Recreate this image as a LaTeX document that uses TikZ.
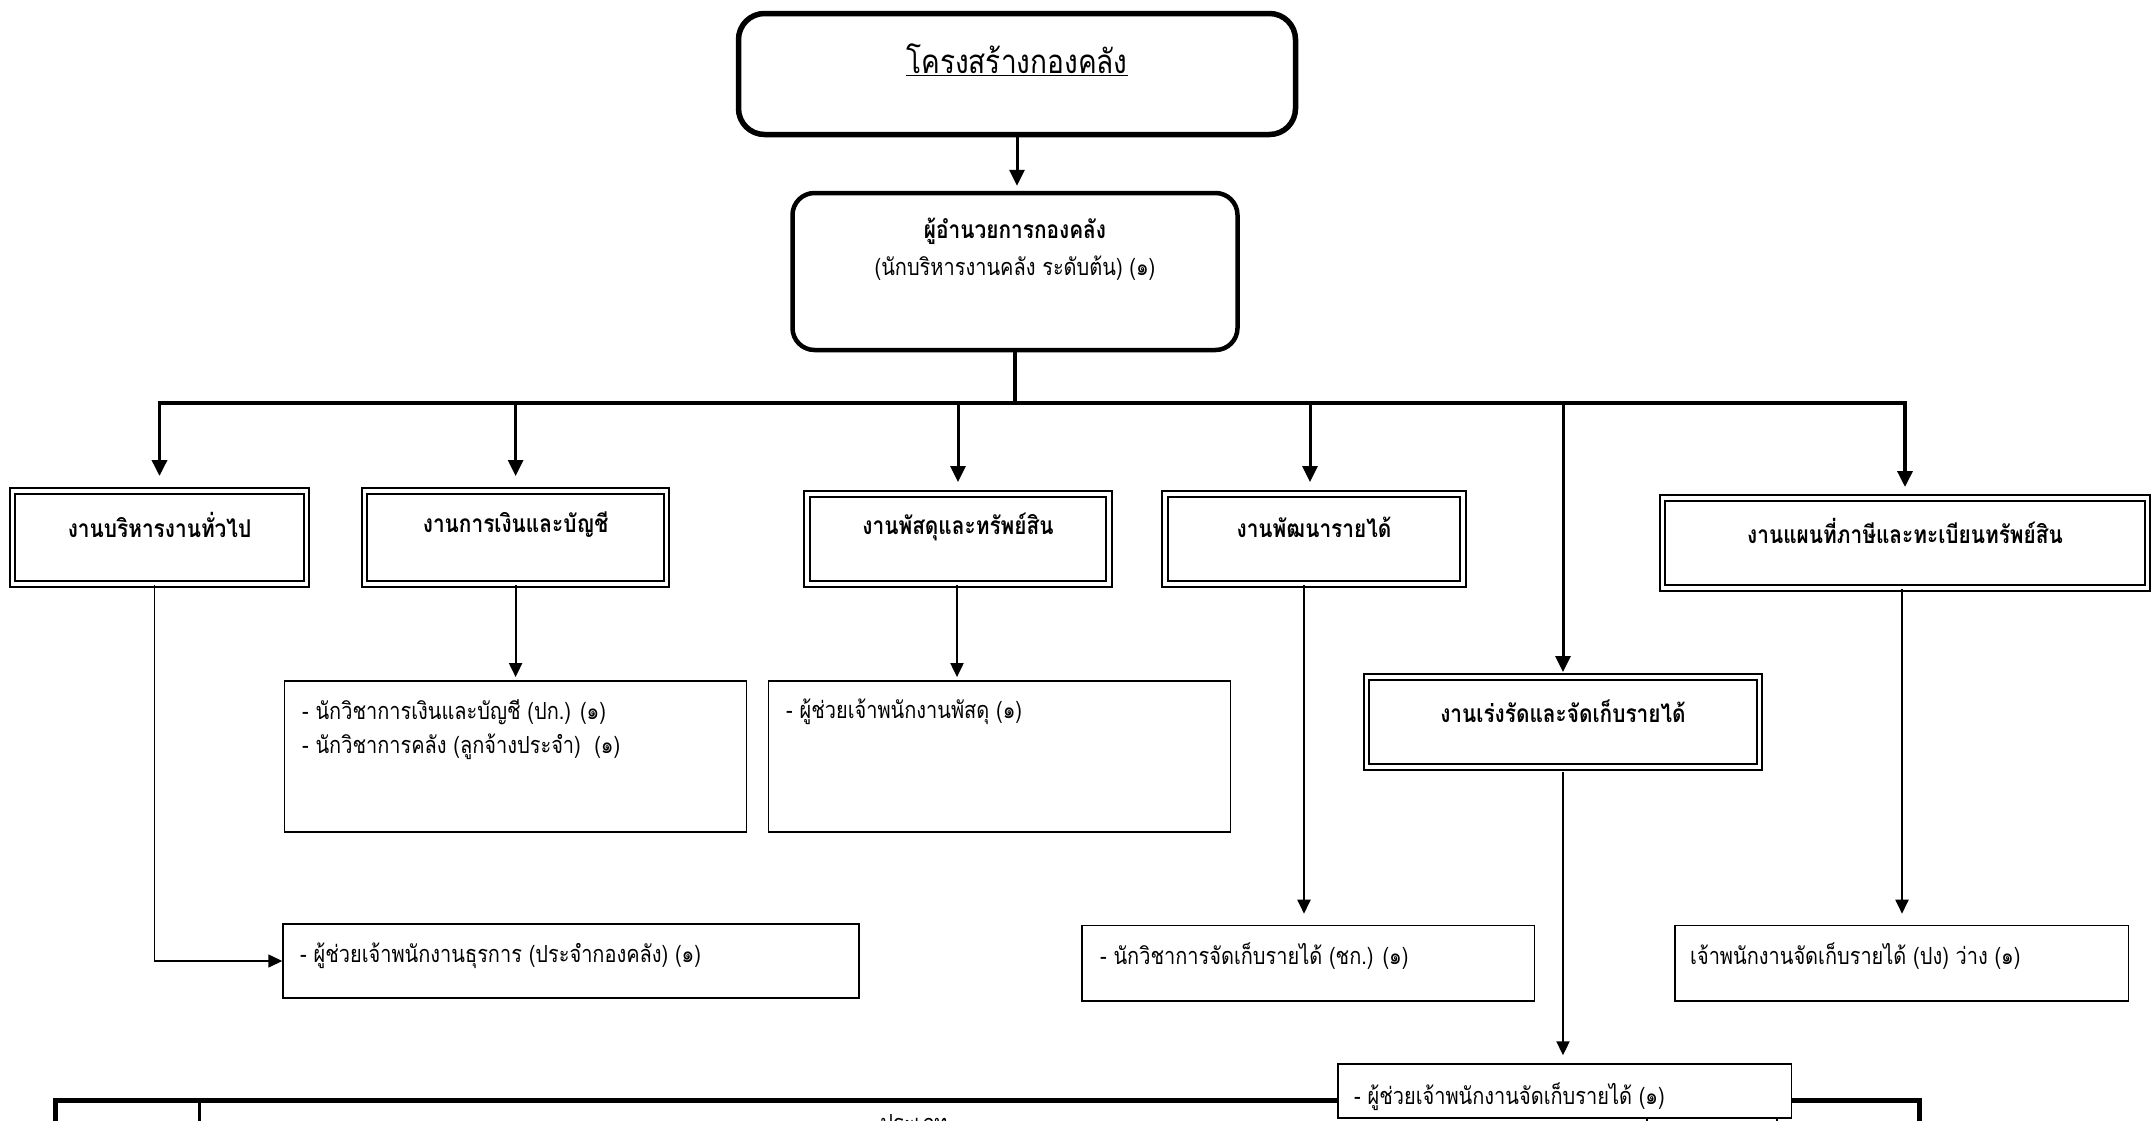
\documentclass[tikz,border=0pt]{standalone}
\usepackage{fontspec}
\setmainfont[Script=Thai, FakeStretch=0.85]{Loma}
\usetikzlibrary{arrows.meta}
\begin{document}
\begin{tikzpicture}[x=1pt,y=-1pt,
  titlebox/.style={draw, line width=5.5pt, rounded corners=26pt},
  dirbox/.style={draw, line width=4.5pt, rounded corners=22pt},
  secbox/.style={draw, line width=2pt, double, double distance=3.5pt, fill=white},
  staffbox/.style={draw, line width=1.4pt, fill=white},
  stafftext/.style={anchor=west, inner sep=0pt, font=\fontsize{23.5}{28}\selectfont},
  sectext/.style={inner sep=0pt, font=\bfseries\fontsize{24.5}{29}\selectfont},
  bigtip/.style={-{Triangle[width=15pt,length=16pt]}},
  smalltip/.style={-{Triangle[width=13pt,length=14pt]}},
  busline/.style={line width=3.5pt},
  dropline/.style={line width=3pt},
  thinline/.style={line width=2pt},
]
\useasboundingbox (0,0) rectangle (2156,1120);

% bottom table (cut off)
\draw[line width=5pt] (55,1124) -- (55,1100) -- (1919.5,1100) -- (1919.5,1124);
\draw[line width=3pt] (199.4,1100) -- (199.4,1124);
\draw[line width=2pt] (1647,1100) -- (1647,1124);
\draw[line width=2pt] (1776.5,1100) -- (1776.5,1124);
\node[stafftext, anchor=north] (tblhead) at (914,1114) {ประเภท};

% title
\node[titlebox, minimum width=557pt, minimum height=121pt] (T) at (1017,74) {};
\node[inner sep=0pt] (Ttext) at (1017,60) {\fontsize{33}{40}\selectfont\underline{โครงสร้างกองคลัง}};

% director
\node[dirbox, minimum width=445pt, minimum height=157pt] (D) at (1015,271.5) {};
\node[sectext] (D1) at (1015,231) {ผู้อำนวยการกองคลัง};
\node[inner sep=0pt, font=\fontsize{23.5}{28}\selectfont] (D2) at (1015,268) {(นักบริหารงานคลัง ระดับต้น) (๑)};

\draw[dropline, bigtip, shorten >=5pt] (T.south) -- (T.south |- D.north);

% sections
\node[secbox, minimum width=294pt, minimum height=93pt] (B1) at (159.5,537.5) {};
\node[secbox, minimum width=302pt, minimum height=93pt] (B2) at (515.6,537.5) {};
\node[secbox, minimum width=302pt, minimum height=90pt] (B3) at (958,539) {};
\node[secbox, minimum width=298pt, minimum height=90pt] (B4) at (1314,539) {};
\node[secbox, minimum width=485pt, minimum height=90pt] (B5) at (1905,543) {};
\node[secbox, minimum width=393pt, minimum height=90pt] (B6) at (1563,722) {};
\node[sectext] (B1t) at (159.5,525) {งานบริหารงานทั่วไป};
\node[sectext] (B2t) at (515.6,525) {งานการเงินและบัญชี};
\node[sectext] (B3t) at (958,527) {งานพัสดุและทรัพย์สิน};
\node[sectext] (B4t) at (1314,527) {งานพัฒนารายได้};
\node[sectext] (B5t) at (1905,531) {งานแผนที่ภาษีและทะเบียนทรัพย์สิน};
\node[sectext] (B6t) at (1563,711) {งานเร่งรัดและจัดเก็บรายได้};

% bus
\coordinate (bus) at (1017,403);
\draw[busline] (D.south) -- (D.south |- bus);
\draw[busline, {Triangle[width=15pt,length=16pt]}-{Triangle[width=15pt,length=16pt]}, shorten <=14pt, shorten >=10pt]
  (B1.north) -- (B1.north |- bus) -- (B5.north |- bus) -- (B5.north);
\draw[dropline, bigtip, shorten >=14pt] (B2.north |- bus) -- (B2.north);
\draw[dropline, bigtip, shorten >=11pt] (B3.north |- bus) -- (B3.north);
\draw[dropline, bigtip, shorten >=11pt] ([xshift=-4pt]B4.north |- bus) -- ([xshift=-4pt]B4.north);
\draw[dropline, bigtip, shorten >=4pt] (B6.north |- bus) -- (B6.north);

% staff boxes
\node[staffbox, minimum width=462pt, minimum height=151pt] (S1) at (515.6,756.3) {};
\node[staffbox, minimum width=462pt, minimum height=151pt] (S2) at (999.6,756.3) {};
\node[staffbox, minimum width=576pt, minimum height=74pt] (S3) at (571,961) {};
\node[staffbox, minimum width=452.5pt, minimum height=75.6pt] (S4) at (1308.3,963.2) {};
\node[staffbox, minimum width=453.7pt, minimum height=75.6pt] (S5) at (1901.7,963.2) {};

\node[stafftext] (S1a) at (302,712) {- นักวิชาการเงินและบัญชี (ปก.) (๑)};
\node[stafftext] (S1b) at (302,746.6) {- นักวิชาการคลัง (ลูกจ้างประจำ)~~(๑)};
\node[stafftext] (S2a) at (786,712) {- ผู้ช่วยเจ้าพนักงานพัสดุ (๑)};
\node[stafftext] (S3a) at (300,955.6) {- ผู้ช่วยเจ้าพนักงานธุรการ (ประจำกองคลัง) (๑)};
\node[stafftext] (S4a) at (1100,955.6) {- นักวิชาการจัดเก็บรายได้ (ชก.) (๑)};
\node[stafftext] (S5a) at (1690,955.6) {เจ้าพนักงานจัดเก็บรายได้ (ปง) ว่าง (๑)};

% connectors to staff
\draw[line width=1.4pt, smalltip] ([xshift=-5pt]B1.south) |- (S3.west);
\draw[thinline, smalltip, shorten >=3pt] (B2.south) -- (B2.south |- S1.north);
\draw[thinline, smalltip, shorten >=3pt] ([xshift=-1pt]B3.south) -- ([xshift=-1pt]B3.south |- S2.north);
\draw[thinline, smalltip, shorten >=11pt] ([xshift=-10pt]B4.south) -- ([xshift=-10pt]B4.south |- S4.north);
\draw[thinline, smalltip, shorten >=11pt] ([xshift=-3pt]B5.south) -- ([xshift=-3pt]B5.south |- S5.north);

% last staff box over table
\node[staffbox, minimum width=453.6pt, minimum height=54pt] (S6) at (1564.8,1091) {};
\node[stafftext] (S6a) at (1354,1097) {- ผู้ช่วยเจ้าพนักงานจัดเก็บรายได้ (๑)};
\draw[thinline, smalltip, shorten <=4pt, shorten >=8pt] (B6.south) -- (B6.south |- S6.north);
\end{tikzpicture}
\end{document}
